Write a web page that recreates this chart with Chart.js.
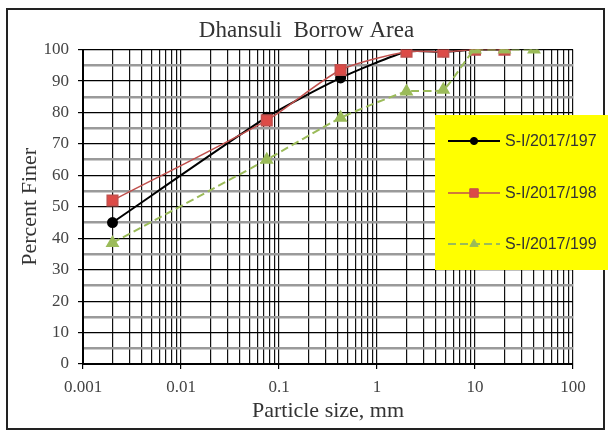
<!DOCTYPE html>
<html>
<head>
<meta charset="utf-8">
<script src="https://cdn.jsdelivr.net/npm/chart.js@4.4.0/dist/chart.umd.min.js"></script>
<style>
  html, body { margin: 0; padding: 0; background: #fff; }
  #wrap { position: relative; width: 608px; height: 432px; }
</style>
</head>
<body>
<div id="wrap"><canvas id="gsd" width="608" height="432"></canvas></div>
<script>
// sieve sizes (mm) and percent finer for each sample
const sieveSizes = [0.002, 0.075, 0.425, 2, 4.75, 10, 20, 40];
const finer197 = [45, 78.5, 91, 99.3, 99.3, 100, 100, null];
const finer198 = [52, 77.5, 93.5, 99.3, 99.3, 100, 100, null];
const finer199 = [38.5, 65, 78.3, 86.7, 87.2, 100, 100, 100];
const seriesLabels = ['S-I/2017/197', 'S-I/2017/198', 'S-I/2017/199'];
const xDecades = [0.001, 0.01, 0.1, 1, 10, 100];
const yTickStep = 5;

function toPoints(arr) {
    return sieveSizes.map((x, i) => ({ x: x, y: arr[i] })).filter(p => p.y !== null);
}

function isDecade(v) {
    const l = Math.log10(v);
    return Math.abs(l - Math.round(l)) < 1e-9;
}

// markers drawn by hand for the legend box
function drawMarker(ctx, style, x, y, r, fill, stroke) {
    ctx.save();
    ctx.fillStyle = fill;
    ctx.strokeStyle = stroke;
    ctx.lineWidth = 1;
    ctx.setLineDash([]);
    ctx.beginPath();
    if (style === 'circle') {
        ctx.arc(x, y, r, 0, Math.PI * 2);
    } else if (style === 'rect') {
        const s = r * Math.SQRT1_2;
        ctx.rect(x - s, y - s, s * 2, s * 2);
    } else {
        ctx.moveTo(x, y - r);
        ctx.lineTo(x + r * 0.866, y + r * 0.5);
        ctx.lineTo(x - r * 0.866, y + r * 0.5);
        ctx.closePath();
    }
    ctx.fill();
    ctx.stroke();
    ctx.restore();
}

const framePlugin = {
    id: 'frame',
    beforeDraw(chart) {
        const ctx = chart.ctx;
        ctx.save();
        ctx.fillStyle = '#fff';
        ctx.fillRect(0, 0, chart.width, chart.height);
        ctx.strokeStyle = '#222';
        ctx.lineWidth = 2;
        ctx.strokeRect(7, 9, 597, 420);
        ctx.restore();
    }
};

const yellowLegend = {
    id: 'yellowLegend',
    afterDraw(chart) {
        const ctx = chart.ctx;
        ctx.save();
        ctx.fillStyle = '#ffff00';
        ctx.fillRect(435, 115, 173, 155);
        const rowY = [141, 193, 244];
        chart.data.datasets.forEach((ds, i) => {
            const y = rowY[i];
            ctx.strokeStyle = ds.borderColor;
            ctx.lineWidth = ds.borderWidth;
            ctx.setLineDash(ds.borderDash || []);
            ctx.beginPath();
            ctx.moveTo(448, y);
            ctx.lineTo(500, y);
            ctx.stroke();
            drawMarker(ctx, ds.pointStyle, 474, y, ds.pointRadius * 0.8, ds.pointBackgroundColor, ds.pointBorderColor);
            ctx.fillStyle = '#333';
            ctx.font = '16px "Liberation Sans", Arial, sans-serif';
            ctx.textBaseline = 'middle';
            ctx.textAlign = 'left';
            ctx.fillText(ds.label, 505, y + 1);
        });
        ctx.restore();
    }
};

const serif = '"Liberation Serif", "Times New Roman", serif';

new Chart(document.getElementById('gsd'), {
    type: 'line',
    data: {
        datasets: [
            {
                label: seriesLabels[0],
                data: toPoints(finer197),
                borderColor: '#000000',
                borderWidth: 2,
                pointStyle: 'circle',
                pointRadius: 4.5,
                pointBackgroundColor: '#000000',
                pointBorderColor: '#000000',
                tension: 0.2,
                order: 3
            },
            {
                label: seriesLabels[1],
                data: toPoints(finer198),
                borderColor: '#c0504d',
                borderWidth: 1.5,
                pointStyle: 'rect',
                pointRadius: 7.5,
                pointBackgroundColor: '#dc4b47',
                pointBorderColor: '#c0504d',
                tension: 0.25,
                order: 2
            },
            {
                label: seriesLabels[2],
                data: toPoints(finer199),
                borderColor: '#9bbb59',
                borderWidth: 2,
                borderDash: [8, 4],
                pointStyle: 'triangle',
                pointRadius: 6,
                pointBackgroundColor: '#9bbb59',
                pointBorderColor: '#9bbb59',
                tension: 0.15,
                order: 1
            }
        ]
    },
    options: {
        responsive: false,
        animation: false,
        // left padding nudges the title centre right, as in the original
        layout: { padding: { left: 40, right: 35, top: 0, bottom: 0 } },
        plugins: {
            legend: { display: false },
            tooltip: { enabled: false },
            title: {
                display: true,
                text: 'Dhansuli  Borrow Area',
                color: '#333',
                font: { family: serif, size: 23, weight: 'normal' },
                padding: { top: 17, bottom: 5 }
            }
        },
        scales: {
            x: {
                type: 'logarithmic',
                min: 0.001,
                max: 100,
                afterBuildTicks: scale => {
                    const ticks = [];
                    for (let d = 0; d < xDecades.length - 1; d++) {
                        for (let k = 1; k <= 9; k++) ticks.push({ value: +(xDecades[d] * k).toPrecision(6) });
                    }
                    ticks.push({ value: xDecades[xDecades.length - 1] });
                    scale.ticks = ticks;
                },
                afterFit: scale => { scale.height = 68; },
                border: { color: '#000', width: 2 },
                grid: {
                    color: '#111',
                    lineWidth: 1.2,
                    tickLength: 5,
                    tickColor: ctx => (ctx.tick && isDecade(ctx.tick.value)) ? '#000' : 'rgba(0,0,0,0)'
                },
                ticks: {
                    autoSkip: false,
                    maxRotation: 0,
                    padding: 8,
                    color: '#444',
                    font: { family: serif, size: 17 },
                    callback: v => isDecade(v) ? String(+v.toPrecision(6)) : ''
                },
                title: {
                    display: true,
                    text: 'Particle size, mm',
                    color: '#333',
                    font: { family: serif, size: 22 },
                    padding: { top: 0, bottom: 8 }
                }
            },
            y: {
                min: 0,
                max: 100,
                afterFit: scale => { scale.width = 43; },
                border: { color: '#000', width: 2 },
                grid: {
                    color: ctx => (ctx.tick && ctx.tick.value % 10 === 0) ? '#000' : '#9a9a9a',
                    lineWidth: ctx => (ctx.tick && ctx.tick.value % 10 === 0) ? 1.2 : 2.5,
                    tickLength: 5,
                    tickColor: ctx => (ctx.tick && ctx.tick.value % 10 === 0) ? '#000' : 'rgba(0,0,0,0)'
                },
                ticks: {
                    stepSize: yTickStep,
                    maxTicksLimit: 25,
                    autoSkip: false,
                    padding: 9,
                    color: '#444',
                    font: { family: serif, size: 17 },
                    callback: v => v % 10 === 0 ? v : ''
                },
                title: {
                    display: true,
                    text: 'Percent Finer',
                    color: '#333',
                    font: { family: serif, size: 22 },
                    padding: { top: -23, bottom: 0 }
                }
            }
        }
    },
    plugins: [framePlugin, yellowLegend]
});
</script>
</body>
</html>
